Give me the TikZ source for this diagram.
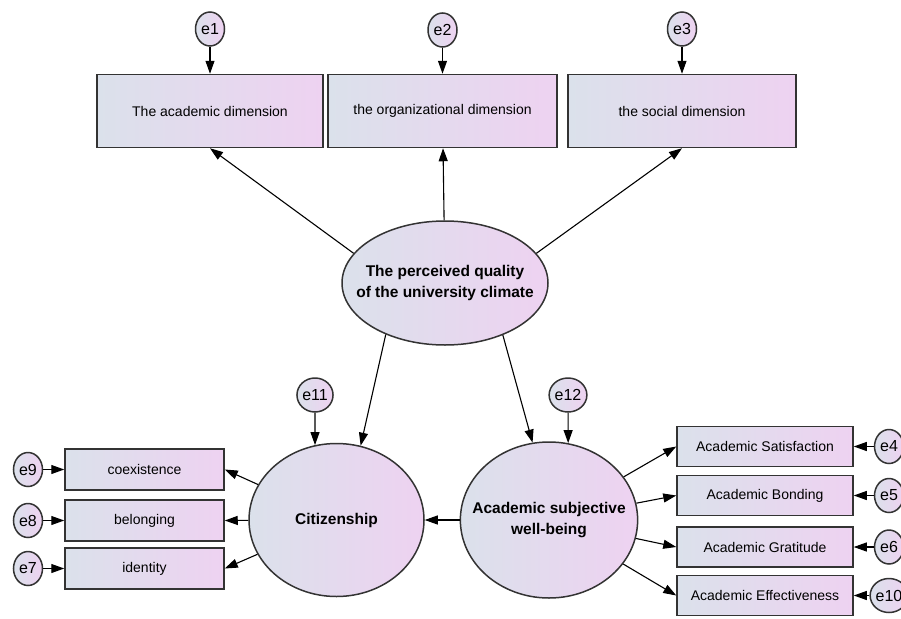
\documentclass[tikz,border=0pt]{standalone}
\usepackage{fontspec}
\setmainfont{Liberation Sans}
\usetikzlibrary{arrows.meta,shapes.geometric}
\definecolor{shadeleft}{RGB}{219,225,235}
\definecolor{shaderight}{RGB}{238,210,241}
\begin{document}
\begin{tikzpicture}[x=1pt,y=-1pt,
        obs/.style={draw=black!80,line width=1.5pt,left color=shadeleft,right color=shaderight,
            inner sep=0pt,font=\fontsize{14}{16}\selectfont},
        lat/.style={ellipse,draw=black!80,line width=1.5pt,left color=shadeleft,right color=shaderight,
            align=center,inner sep=0pt,font=\bfseries\fontsize{15.5}{21}\selectfont},
        err/.style={ellipse,draw=black!80,line width=1.5pt,left color=shadeleft,right color=shaderight,
            inner sep=0pt,minimum width=29pt,minimum height=34pt,font=\fontsize{16}{16}\selectfont},
        arr/.style={-{Triangle[length=13pt,width=9pt]},line width=1.1pt}]
        \useasboundingbox (0,0) rectangle (901,618);
        % climate and its dimensions
        \node[obs,minimum width=226pt,minimum height=73pt] (acad) at (210,111) {The academic dimension};
        \node[obs,minimum width=229pt,minimum height=73pt] (org) at (442.5,111) {the organizational dimension};
        \node[obs,minimum width=228pt,minimum height=73pt] (soc) at (682,111) {the social dimension};
        \node[lat,inner xsep=-16pt,minimum width=206pt,minimum height=124pt] (qual) at (445,283)
            {The perceived quality\\of the university climate};
        \node[err] (e1) at (210,29) {e1};
        \node[err] (e2) at (442.5,30) {e2};
        \node[err] (e3) at (682,29) {e3};
        % the two outcomes
        \node[lat,minimum width=175pt,minimum height=153pt] (cit) at (336.5,520) {Citizenship};
        \node[lat,inner xsep=-14pt,minimum width=176pt,minimum height=156pt] (asw) at (549,520)
            {Academic subjective\\well-being};
        \node[err] (e11) at (315,395) {e11};
        \node[err] (e12) at (568,395) {e12};
        % left indicators
        \node[obs,minimum width=159pt,minimum height=41pt] (coex) at (144.5,469.5) {coexistence};
        \node[obs,minimum width=159pt,minimum height=41pt] (bel) at (144.5,520.5) {belonging};
        \node[obs,minimum width=159pt,minimum height=41pt] (iden) at (144.5,568.5) {identity};
        \node[err] (e9) at (28,469.5) {e9};
        \node[err] (e8) at (28,520.5) {e8};
        \node[err] (e7) at (28,568.5) {e7};
        % right indicators
        \node[obs,minimum width=176pt,minimum height=40pt] (sat) at (765,446.5) {Academic Satisfaction};
        \node[obs,minimum width=176pt,minimum height=40pt] (bond) at (765,495.5) {Academic Bonding};
        \node[obs,minimum width=176pt,minimum height=40pt] (grat) at (765,547) {Academic Gratitude};
        \node[obs,minimum width=176pt,minimum height=40pt] (eff) at (765,595.5) {Academic Effectiveness};
        \node[err] (e4) at (889,446.5) {e4};
        \node[err] (e5) at (889,495.5) {e5};
        \node[err] (e6) at (889,547) {e6};
        \node[err] (e10) at (889,595.5) {e10};
        % paths
        \draw[arr] (qual.162) -- (acad.south);
        \draw[arr] (qual) -- (org);
        \draw[arr] (qual.18) -- (soc.south);
        \draw[arr] (qual.221) -- (cit.72);
        \draw[arr] (qual.318) -- (asw.102);
        \draw[arr] (asw) -- (cit);
        \foreach \b in {coex,bel,iden} \draw[arr] (cit) -- (\b.east);
        \foreach \b in {sat,bond,grat,eff} \draw[arr] (asw) -- (\b.west);
        % errors
        \foreach \e/\b in {e1/acad,e2/org,e3/soc,e9/coex,e8/bel,e7/iden,e4/sat,e5/bond,e6/grat,e10/eff}
            \draw[arr] (\e) -- (\b);
        \draw[arr] (e11) -- (cit.106);
        \draw[arr] (e12) -- (asw.76);
    \end{tikzpicture}
\end{document}
